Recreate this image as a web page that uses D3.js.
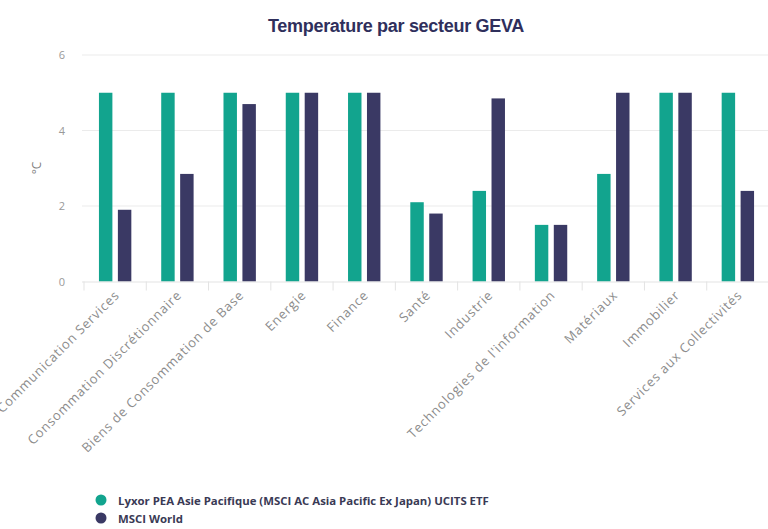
<!DOCTYPE html>
<html>
<head>
<meta charset="utf-8">
<script src="https://cdn.jsdelivr.net/npm/d3@7"></script>
<style>
  body { margin: 0; background: #fff; }
  svg { display: block; }
</style>
</head>
<body>
<div id="chart"></div>
<script>
// secteurs GEVA
const sectors = [
  "Communication Services",
  "Consommation Discrétionnaire",
  "Biens de Consommation de Base",
  "Energie",
  "Finance",
  "Santé",
  "Industrie",
  "Technologies de l'information",
  "Matériaux",
  "Immobilier",
  "Services aux Collectivités"
];
const seriesNames = [
  "Lyxor PEA Asie Pacifique (MSCI AC Asia Pacific Ex Japan) UCITS ETF",
  "MSCI World"
];
const fundValues = [5, 5, 5, 5, 5, 2.1, 2.4, 1.5, 2.85, 5, 5];
const worldValues = [1.9, 2.85, 4.7, 5, 5, 1.8, 4.85, 1.5, 5, 5, 2.4];
const yTicks = [0, 2, 4, 6];

const colors = ["#12a48e", "#3a3964"];

const width = 768, height = 529;
const svg = d3.select("#chart").append("svg")
  .attr("width", width)
  .attr("height", height);

const rows = sectors.map((s, i) => ({ sector: s, values: [fundValues[i], worldValues[i]] }));

// scales
const x0 = d3.scaleBand().domain(sectors).range([84, 769])
  .paddingInner(0.48).paddingOuter(0.24);
const x1 = d3.scaleBand().domain([0, 1]).range([0, x0.bandwidth()]).paddingInner(0.29);
const y = d3.scaleLinear().domain([0, 6]).range([281.5, 55]);

// title
svg.append("text")
  .attr("x", 396)
  .attr("y", 32)
  .attr("text-anchor", "middle")
  .style("font-family", "'Liberation Sans', Arial, sans-serif")
  .style("font-weight", "bold")
  .style("font-size", "18px")
  .style("letter-spacing", "-0.3px")
  .style("fill", "#2f2f5c")
  .text("Temperature par secteur GEVA");

// grid
svg.append("g").selectAll("line")
  .data(yTicks.filter(d => d > 0))
  .join("line")
  .attr("x1", 82).attr("x2", width)
  .attr("y1", d => y(d)).attr("y2", d => y(d))
  .style("stroke", "#ebebeb")
  .style("stroke-width", 1);

// y axis labels
svg.append("g").selectAll("text")
  .data(yTicks)
  .join("text")
  .attr("x", 65)
  .attr("y", d => y(d) + 4)
  .attr("text-anchor", "end")
  .style("font-family", "'Open Sans', sans-serif")
  .style("font-size", "11px")
  .style("fill", "#999")
  .text(d => d);

svg.append("text")
  .attr("transform", "translate(41,168) rotate(-90)")
  .attr("text-anchor", "middle")
  .style("font-family", "'Open Sans', sans-serif")
  .style("font-size", "12px")
  .style("fill", "#808080")
  .text("°C");

// bars
const groups = svg.append("g").selectAll("g")
  .data(rows)
  .join("g")
  .attr("transform", d => "translate(" + x0(d.sector) + ",0)");

groups.selectAll("rect")
  .data(d => d.values.map((v, k) => ({ k: k, v: v })))
  .join("rect")
  .attr("x", d => x1(d.k))
  .attr("width", x1.bandwidth())
  .attr("y", d => y(d.v))
  .attr("height", d => y(0) - y(d.v))
  .attr("fill", d => colors[d.k]);

// x axis line + tick marks at category edges
svg.append("line")
  .attr("x1", 82).attr("x2", width)
  .attr("y1", y(0) + 0.5).attr("y2", y(0) + 0.5)
  .style("stroke", "#e3e3e3");

const edges = sectors.map(s => x0(s) - x0.step() * x0.paddingInner() / 2);
svg.append("g").selectAll("line")
  .data(edges)
  .join("line")
  .attr("x1", d => d).attr("x2", d => d)
  .attr("y1", y(0)).attr("y2", y(0) + 9)
  .style("stroke", "#e3e3e3");

// rotated category labels
svg.append("g").selectAll("text")
  .data(sectors)
  .join("text")
  .attr("transform", d => "translate(" + (x0(d) + x0.bandwidth() / 2 + 5) + ",296) rotate(-45)")
  .attr("text-anchor", "end")
  .style("font-family", "'Open Sans', sans-serif")
  .style("font-size", "13px")
  .style("letter-spacing", "0.8px")
  .style("fill", "#8c8c8c")
  .text(d => d);

// legend
const legend = svg.append("g").selectAll("g")
  .data(seriesNames)
  .join("g")
  .attr("transform", (d, i) => "translate(101," + (500 + i * 18) + ")");

legend.append("circle")
  .attr("r", 5.5)
  .attr("fill", (d, i) => colors[i]);

legend.append("text")
  .attr("x", 17)
  .attr("y", 4.5)
  .style("font-family", "'Open Sans', sans-serif")
  .style("font-weight", "bold")
  .style("font-size", "11.4px")
  .style("fill", "#3a3a55")
  .text(d => d);
</script>
</body>
</html>
